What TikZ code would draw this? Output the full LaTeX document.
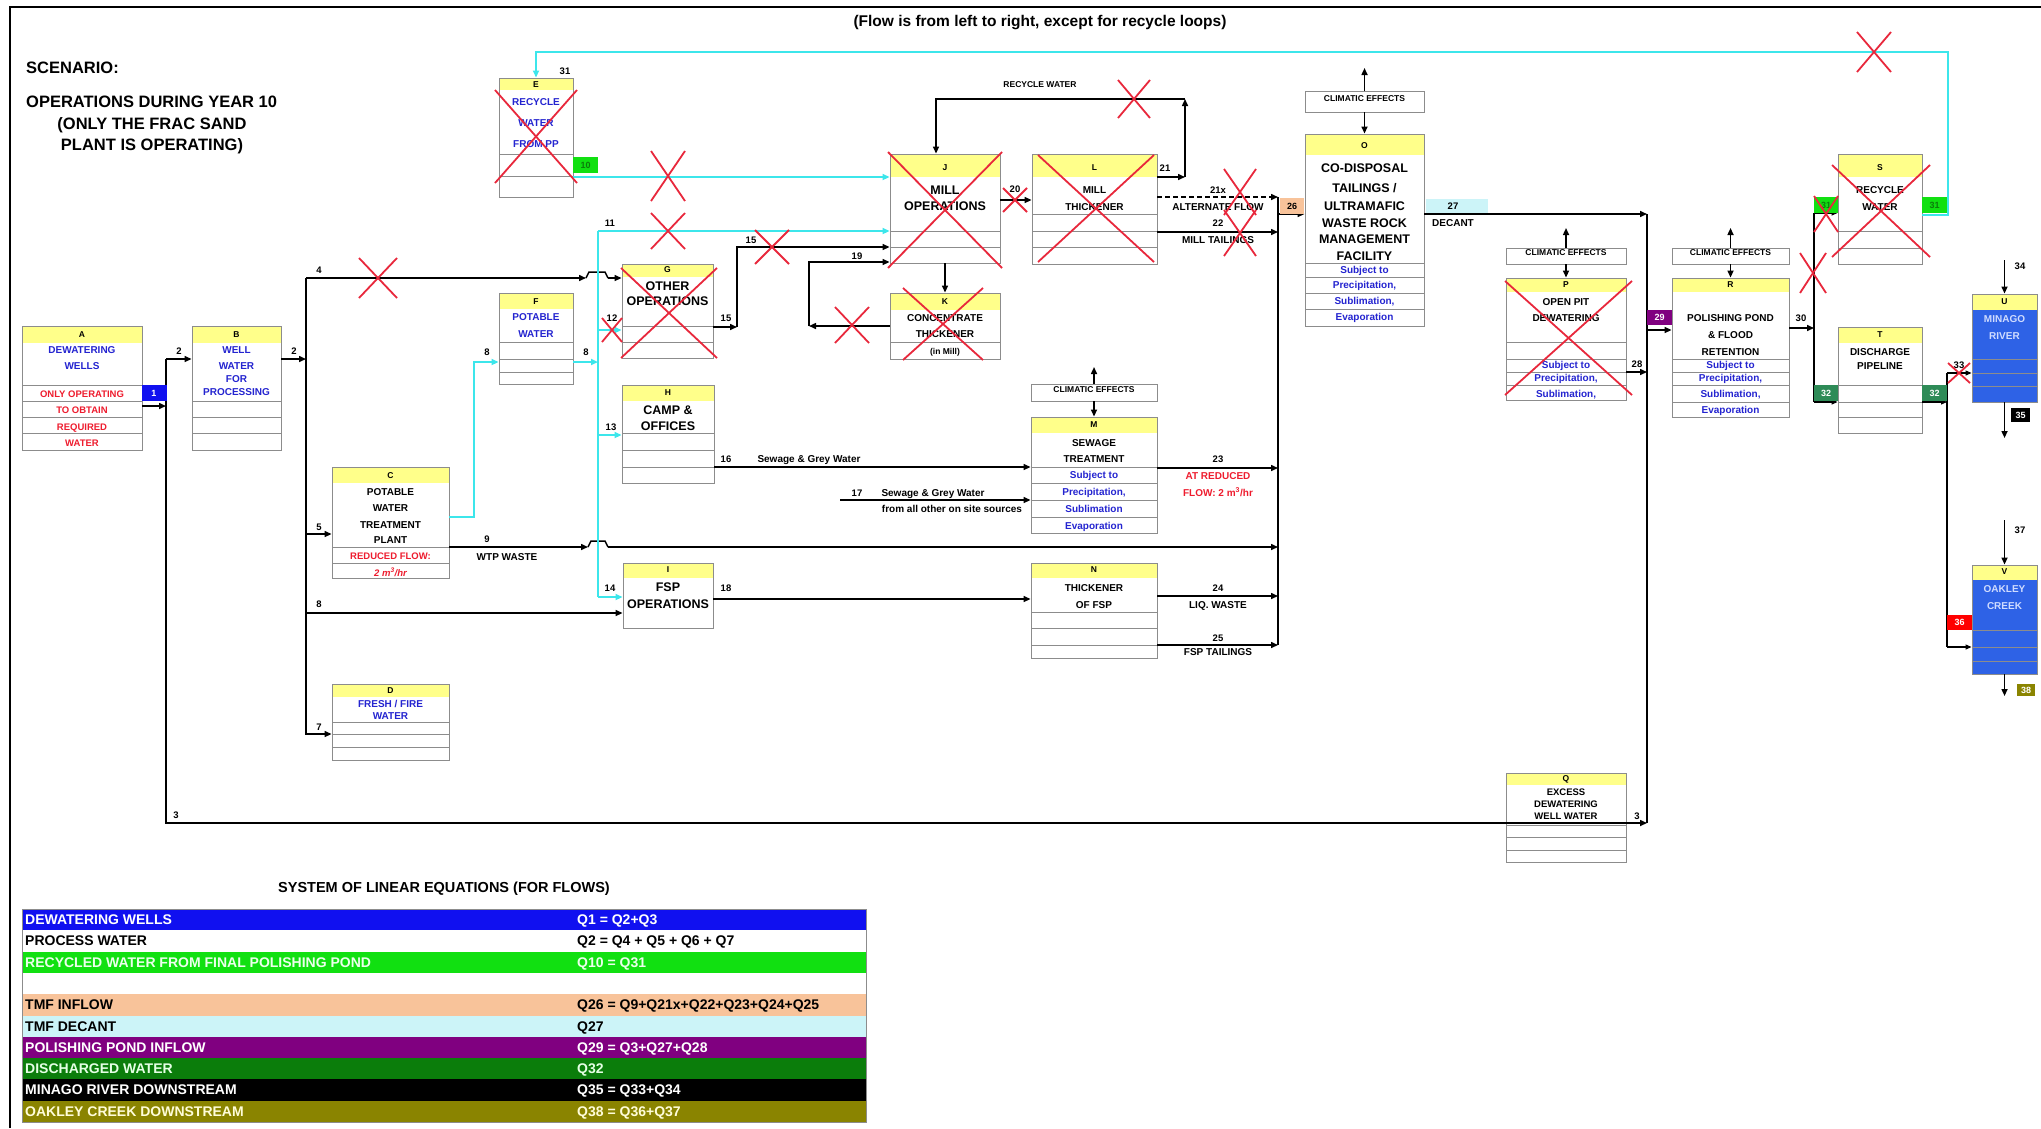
\documentclass[tikz,border=0pt]{standalone}
\usepackage{fontspec}
\setmainfont{Liberation Sans}
\usetikzlibrary{arrows.meta,fit}
\definecolor{hdr}{HTML}{FFFF8A}
\definecolor{boxc}{HTML}{8C8C8C}
\definecolor{cyanl}{HTML}{3CE6EB}
\definecolor{tblue}{HTML}{2424D0}
\definecolor{tred}{HTML}{EE1C2E}
\definecolor{xred}{HTML}{E8283C}
\definecolor{lgreen}{HTML}{11E011}
\definecolor{dgreen}{HTML}{2E8B57}
\definecolor{purp}{HTML}{800080}
\definecolor{lblue}{HTML}{1010F0}
\definecolor{peach}{HTML}{F8C39A}
\definecolor{lcyan}{HTML}{CCF4F8}
\definecolor{olivec}{HTML}{8A8400}
\definecolor{ublue}{HTML}{2E62E6}
\definecolor{tgreen}{HTML}{0B7D0B}
\definecolor{utext}{HTML}{D0DCFF}
\tikzset{
  ln/.style={line width=1.5pt},
  flow/.style={line width=1.5pt,-{Triangle[length=7pt,width=6pt]}},
  cln/.style={line width=1.8pt,draw=cyanl},
  cflow/.style={line width=1.8pt,draw=cyanl,-{Triangle[length=7pt,width=6pt]}},
  sflow/.style={line width=1.1pt,-{Triangle[length=6pt,width=5pt]}},
  rowl/.style={draw=boxc,line width=0.8pt},
  tx/.style={inner sep=0pt,text depth=0pt,font=\bfseries\fontsize{10}{12}\selectfont},
  big/.style={font=\bfseries\fontsize{12.5}{14}\selectfont},
  sm/.style={font=\bfseries\fontsize{8.5}{10}\selectfont},
  num/.style={font=\bfseries\fontsize{9.5}{11}\selectfont},
  blu/.style={text=tblue},
  rd/.style={text=tred},
  lab/.style={inner sep=0pt,minimum width=25pt,minimum height=16pt,font=\bfseries\fontsize{9}{10}\selectfont},
  clim/.style={draw=boxc,line width=0.9pt,fill=white,inner sep=0pt,font=\bfseries\fontsize{8.5}{10}\selectfont},
  xmk/.style={draw=xred,line width=1.8pt},
  tb/.style={inner sep=0pt,anchor=west,font=\bfseries\fontsize{14}{16}\selectfont},
  scen/.style={font=\bfseries\fontsize{16.5}{18}\selectfont},
}
\newcounter{tn}
\newcommand\ttx[4][]{\stepcounter{tn}\node[tx,#1] (t\arabic{tn}) at (#2,#3) {#4};}
\newcommand\fbx[8][white]{%
  \fill[#1] (#3,#4) rectangle (#5,#6);
  \fill[hdr] (#3,#4) rectangle (#5,#7);
  \foreach \rw in {#8}{\draw[rowl] (#3,\rw) -- (#5,\rw);}
  \node[fit={(#3,#4) (#5,#6)}, inner sep=0pt, draw=boxc, line width=0.9pt] (#2) {};
}
\newcommand\redx[4]{\draw[xmk] ({#1-#3},{#2-#4}) -- ({#1+#3},{#2+#4}) ({#1-#3},{#2+#4}) -- ({#1+#3},{#2-#4});}
\newcommand\bigx[4]{\draw[xmk] (#1,#2) -- (#3,#4) (#3,#2) -- (#1,#4);}
\newcommand\trow[5]{%
  \fill[#2] (22,{909+#1*21.3}) rectangle (866,{909+(#1+1)*21.3});
  \pgfmathsetmacro\ry{909+(#1+0.5)*21.3}
  \ttx[tb,text=#3]{25}{\ry}{#4}
  \ttx[tb,text=#3]{577}{\ry}{#5}
}
\begin{document}
\begin{tikzpicture}[x=1pt,y=-1pt]
\useasboundingbox (0,0) rectangle (2041,1128);
\draw[line width=1.8pt] (10,1128) -- (10,7) -- (2041,7);

% ---------- boxes
\fbx{A}{22}{326}{142}{450}{343}{385,401,417,433}
\fbx{B}{192}{326}{281}{450}{343}{401,417,433}
\fbx{C}{332}{467}{449}{578}{483}{547,563}
\fbx{D}{332}{684}{449}{760}{697}{722,734,747}
\fbx{E}{499}{78}{573}{197}{90}{154,176}
\fbx{F}{499}{293}{573}{384}{309}{342,359,372}
\fbx{G}{622}{264}{713}{358}{277}{326,342}
\fbx{H}{622}{385}{714}{483}{401}{433,450,467}
\fbx{I}{623}{563}{713}{628}{578}{628}
\fbx{J}{890}{154}{1000}{263}{177}{231,247}
\fbx{K}{890}{293}{1000}{359}{310}{342}
\fbx{L}{1032}{154}{1157}{264}{177}{214,231,247}
\fbx{M}{1031}{417}{1157}{533}{433}{467,483,500,517}
\fbx{N}{1031}{563}{1157}{658}{578}{612,628,645}
\fbx{O}{1305}{134}{1424}{326}{155}{263,277,293,309}
\fbx{P}{1506}{278}{1626}{400}{292}{342,359,372,385}
\fbx{Q}{1506}{773}{1626}{862}{785}{825,837,850}
\fbx{R}{1672}{278}{1789}{417}{292}{359,372,385,402}
\fbx{S}{1838}{154}{1922}{264}{177}{231,248}
\fbx{T}{1838}{327}{1922}{433}{343}{385,402,417}
\fbx[ublue]{U}{1972}{294}{2037}{402}{310}{359,373,386}
\fbx[ublue]{V}{1972}{565}{2037}{674}{580}{630,647,661}

\node[clim, fit={(1305,91) (1424,112)}] (CO) {CLIMATIC EFFECTS};
\node[clim, fit={(1031,384) (1157,401)}] (CM) {CLIMATIC EFFECTS};
\node[clim, fit={(1506,248) (1626,264)}] (CP) {CLIMATIC EFFECTS};
\node[clim, fit={(1672,248) (1789,264)}] (CR) {CLIMATIC EFFECTS};

% ---------- connectors (left part)
\draw[flow] (A.east |- 0,406) -- (166,406);
\draw[flow] (166,359) -- (B.west |- 0,359);
\draw[flow] (166,359) -- (166,823) -- (1647,823);
\draw[flow] (B.east |- 0,359) -- (306,359);
\draw[flow] (306,278) -- (306,734) -- (D.west |- 0,734);
\draw[flow] (306,278) -- (586,278);
\draw[ln] (586,278) -- (589,272) -- (605,272) -- (608,278);
\draw[flow] (608,278) -- (G.west |- 0,278);
\draw[flow] (306,534) -- (C.west |- 0,534);
\draw[flow] (306,613) -- (I.west |- 0,613);
% line 9 with hop
\draw[flow] (C.east |- 0,547) -- (588,547);
\draw[ln] (588,547) -- (591,541) -- (605,541) -- (608,547);
\draw[flow] (608,547) -- (1278,547);

% cyan
\draw[cflow] (C.east |- 0,517) -- (474,517) -- (474,362) -- (F.west |- 0,362);
\draw[cflow] (F.east |- 0,362) -- (598,362);
\draw[cln] (598,231) -- (598,597);
\draw[cflow] (598,231) -- (J.west |- 0,231);
\draw[cflow] (598,330) -- (G.west |- 0,330);
\draw[cflow] (598,435) -- (H.west |- 0,435);
\draw[cflow] (598,597) -- (I.west |- 0,597);
\draw[cflow] (E.east |- 0,177) -- (J.west |- 0,177);
\draw[cflow] (S.east |- 0,215) -- (1948,215) -- (1948,52) -- (536,52) -- (E.north);

% mill area
\draw[flow] (G.east |- 0,327) -- (737,327);
\draw[flow] (737,327) -- (737,247) -- (J.west |- 0,247);
\draw[flow] (K.west |- 0,326) -- (809,326);
\draw[flow] (809,326) -- (809,262) -- (J.west |- 0,262);
\draw[flow] (J.south) -- (K.north);
\draw[flow] (J.east |- 0,200) -- (L.west |- 0,200);
\draw[flow] (L.east |- 0,177) -- (1185,177);
\draw[flow] (1185,177) -- (1185,99);
\draw[flow] (1185,99) -- (936,99) -- (J.north -| 936,0);
\draw[flow, dash pattern=on 5pt off 3pt] (L.east |- 0,197) -- (1278,197);
\draw[flow] (L.east |- 0,232) -- (1278,232);
\draw[ln] (1278,197) -- (1278,645);
\draw[flow] (1278,214) -- (O.west |- 0,214);

% sewage / FSP
\coordinate (s17) at (840,500);
\draw[flow] (H.east |- 0,467) -- (M.west |- 0,467);
\draw[flow] (s17) -- (M.west |- s17);
\draw[flow] (I.east |- 0,599) -- (N.west |- 0,599);
\draw[flow] (M.east |- 0,468) -- (1278,468);
\draw[flow] (N.east |- 0,596) -- (1278,596);
\draw[flow] (N.east |- 0,645) -- (1278,645);

% climatic arrows
\coordinate (uO) at (1364.5,68);
\coordinate (uM) at (1094,367);
\coordinate (uP) at (1566,228);
\coordinate (uR) at (1730.5,228);
\draw[flow] (CO.north) -- (uO);
\draw[flow] (CO.south) -- (O.north);
\draw[flow] (CM.north) -- (uM);
\draw[flow] (CM.south) -- (M.north);
\draw[flow] (CP.north) -- (uP);
\draw[flow] (CP.south) -- (P.north);
\draw[flow] (CR.north) -- (uR);
\draw[flow] (CR.south) -- (R.north);

% right part
\fill[lcyan] (1426,199) rectangle (1488,213);
\draw[flow] (O.east |- 0,214) -- (1647,214);
\draw[ln] (1647,214) -- (1647,823);
\draw[flow] (P.east |- 0,372) -- (1647,372);
\draw[flow] (1647,330) -- (R.west |- 0,330);
\draw[flow] (R.east |- 0,328) -- (1814,328);
\draw[sflow] (1814,213) -- (S.west |- 0,213);
\draw[line width=1.1pt] (1814,213) -- (1814,402);
\draw[sflow] (1814,402) -- (T.west |- 0,402);
\draw[sflow] (T.east |- 0,402) -- (1947,402);
\draw[line width=1.1pt] (1947,373) -- (1947,647);
\draw[sflow] (1947,373) -- (U.west |- 0,373);
\draw[sflow] (1947,647) -- (V.west |- 0,647);
\coordinate (i34) at (2004.5,260);
\coordinate (o35) at (2004.5,438);
\coordinate (i37) at (2004.5,520);
\coordinate (o38) at (2004.5,696);
\draw[flow] (i34) -- (U.north);
\draw[flow] (U.south) -- (o35);
\draw[flow] (i37) -- (V.north);
\draw[flow] (V.south) -- (o38);

% ---------- coloured labels
\node[lab,fill=lblue,text=white] (l1) at (154,393) {1};
\node[lab,fill=lgreen,text=tgreen] (l10) at (585.5,165) {10};
\node[lab,fill=peach,minimum width=24pt] (l26) at (1292,206) {26};
\node[lab,fill=purp,text=white,minimum height=15pt] (l29) at (1659.5,317.5) {29};
\node[lab,fill=lgreen,text=tgreen,minimum width=24pt] (l31a) at (1826,205) {31};
\node[lab,fill=lgreen,text=tgreen] (l31b) at (1934.5,205) {31};
\node[lab,fill=dgreen,text=white,minimum width=24pt] (l32a) at (1826,393) {32};
\node[lab,fill=dgreen,text=white] (l32b) at (1934.5,393) {32};
\node[lab,fill=black,text=white,minimum width=19pt,minimum height=14pt] (l35) at (2020.5,415) {35};
\node[lab,fill=red,text=white,minimum height=15pt] (l36) at (1959.5,622.5) {36};
\node[lab,fill=olivec,text=white,minimum width=18pt,minimum height=12pt] (l38) at (2026,690) {38};

% ---------- texts
\ttx[scen,anchor=west]{26}{68}{SCENARIO:}
\ttx[scen,anchor=west]{26}{102}{OPERATIONS DURING YEAR 10}
\ttx[scen]{152}{124}{(ONLY THE FRAC SAND}
\ttx[scen]{152}{145}{PLANT IS OPERATING)}
\ttx[font=\bfseries\fontsize{15.5}{17}\selectfont]{1040}{21}{(Flow is from left to right, except for recycle loops)}

\ttx[sm]{82}{335}{A}
\ttx[blu]{82}{350}{DEWATERING}
\ttx[blu]{82}{366}{WELLS}
\ttx[rd,font=\bfseries\fontsize{9.5}{11}\selectfont]{82}{394}{ONLY OPERATING}
\ttx[rd,font=\bfseries\fontsize{9.5}{11}\selectfont]{82}{410}{TO OBTAIN}
\ttx[rd,font=\bfseries\fontsize{9.5}{11}\selectfont]{82}{427}{REQUIRED}
\ttx[rd,font=\bfseries\fontsize{9.5}{11}\selectfont]{82}{443}{WATER}

\ttx[sm]{236.5}{335}{B}
\ttx[blu]{236.5}{350}{WELL}
\ttx[blu]{236.5}{366}{WATER}
\ttx[blu]{236.5}{379}{FOR}
\ttx[blu]{236.5}{392}{PROCESSING}

\ttx[sm]{390.5}{476}{C}
\ttx{390.5}{492}{POTABLE}
\ttx{390.5}{508}{WATER}
\ttx{390.5}{525}{TREATMENT}
\ttx{390.5}{540}{PLANT}
\ttx[rd,font=\bfseries\fontsize{9.5}{11}\selectfont]{390.5}{556}{REDUCED FLOW:}
\ttx[rd,font=\bfseries\itshape\fontsize{9.5}{11}\selectfont]{390.5}{572}{2 m\textsuperscript{3}/hr}

\ttx[sm]{390.5}{691}{D}
\ttx[blu]{390.5}{704}{FRESH / FIRE}
\ttx[blu]{390.5}{716}{WATER}

\ttx[sm]{536}{85}{E}
\ttx[blu]{536}{102}{RECYCLE}
\ttx[blu]{536}{123}{WATER}
\ttx[blu]{536}{144}{FROM PP}

\ttx[sm]{536}{302}{F}
\ttx[blu]{536}{317}{POTABLE}
\ttx[blu]{536}{334}{WATER}

\ttx[sm]{667.5}{270}{G}
\ttx[big]{667.5}{286}{OTHER}
\ttx[big]{667.5}{301}{OPERATIONS}

\ttx[sm]{668}{393}{H}
\ttx[big]{668}{410}{CAMP \&}
\ttx[big]{668}{426}{OFFICES}

\ttx[sm]{668}{570}{I}
\ttx[big]{668}{587}{FSP}
\ttx[big]{668}{604}{OPERATIONS}

\ttx[sm]{945}{168}{J}
\ttx[big]{945}{190}{MILL}
\ttx[big]{945}{206}{OPERATIONS}

\ttx[sm]{945}{302}{K}
\ttx{945}{318}{CONCENTRATE}
\ttx{945}{334}{THICKENER}
\ttx[sm]{945}{351}{(in Mill)}

\ttx[sm]{1094.5}{168}{L}
\ttx{1094.5}{190}{MILL}
\ttx{1094.5}{207}{THICKENER}

\ttx[sm]{1094}{425}{M}
\ttx{1094}{443}{SEWAGE}
\ttx{1094}{459}{TREATMENT}
\ttx[blu]{1094}{475}{Subject to}
\ttx[blu]{1094}{492}{Precipitation,}
\ttx[blu]{1094}{509}{Sublimation}
\ttx[blu]{1094}{526}{Evaporation}

\ttx[sm]{1094}{570}{N}
\ttx{1094}{588}{THICKENER}
\ttx{1094}{605}{OF FSP}

\ttx[sm]{1364.5}{146}{O}
\ttx[big]{1364.5}{168}{CO-DISPOSAL}
\ttx[big]{1364.5}{188}{TAILINGS /}
\ttx[big]{1364.5}{206}{ULTRAMAFIC}
\ttx[big]{1364.5}{223}{WASTE ROCK}
\ttx[big]{1364.5}{239}{MANAGEMENT}
\ttx[big]{1364.5}{256}{FACILITY}
\ttx[blu]{1364.5}{270}{Subject to}
\ttx[blu]{1364.5}{285}{Precipitation,}
\ttx[blu]{1364.5}{301}{Sublimation,}
\ttx[blu]{1364.5}{317}{Evaporation}

\ttx[sm]{1566}{285}{P}
\ttx{1566}{302}{OPEN PIT}
\ttx{1566}{318}{DEWATERING}
\ttx[blu]{1566}{365}{Subject to}
\ttx[blu]{1566}{378}{Precipitation,}
\ttx[blu]{1566}{394}{Sublimation,}

\ttx[sm]{1566}{779}{Q}
\ttx[font=\bfseries\fontsize{9.5}{11}\selectfont]{1566}{792}{EXCESS}
\ttx[font=\bfseries\fontsize{9.5}{11}\selectfont]{1566}{804}{DEWATERING}
\ttx[font=\bfseries\fontsize{9.5}{11}\selectfont]{1566}{816}{WELL WATER}

\ttx[sm]{1730.5}{285}{R}
\ttx{1730.5}{318}{POLISHING POND}
\ttx{1730.5}{335}{\& FLOOD}
\ttx{1730.5}{352}{RETENTION}
\ttx[blu]{1730.5}{365}{Subject to}
\ttx[blu]{1730.5}{378}{Precipitation,}
\ttx[blu]{1730.5}{394}{Sublimation,}
\ttx[blu]{1730.5}{410}{Evaporation}

\ttx[sm]{1880}{168}{S}
\ttx{1880}{190}{RECYCLE}
\ttx{1880}{207}{WATER}

\ttx[sm]{1880}{335}{T}
\ttx{1880}{352}{DISCHARGE}
\ttx{1880}{366}{PIPELINE}

\ttx[sm]{2004.5}{302}{U}
\ttx[text=utext]{2004.5}{319}{MINAGO}
\ttx[text=utext]{2004.5}{336}{RIVER}

\ttx[sm]{2004.5}{572}{V}
\ttx[text=utext]{2004.5}{589}{OAKLEY}
\ttx[text=utext]{2004.5}{606}{CREEK}

% flow numbers and notes
\ttx[num]{179}{351}{2}
\ttx[num]{294}{351}{2}
\ttx[num]{319}{270}{4}
\ttx[num]{319}{527}{5}
\ttx[num]{319}{604}{8}
\ttx[num]{319}{727}{7}
\ttx[num]{176}{815}{3}
\ttx[num]{1637}{816}{3}
\ttx[num]{565}{71}{31}
\ttx[num]{487}{352}{8}
\ttx[num]{586}{352}{8}
\ttx[num]{610}{223}{11}
\ttx[num]{612}{318}{12}
\ttx[num]{611}{427}{13}
\ttx[num]{610}{588}{14}
\ttx[num]{487}{539}{9}
\ttx{507}{557}{WTP WASTE}
\ttx[num]{726}{318}{15}
\ttx[num]{751}{240}{15}
\ttx[num]{857}{256}{19}
\ttx[num]{1015}{189}{20}
\ttx[num]{1165}{168}{21}
\ttx[sm]{1040}{85}{RECYCLE WATER}
\ttx[num]{1218}{190}{21x}
\ttx{1218}{207}{ALTERNATE FLOW}
\ttx[num]{1218}{223}{22}
\ttx{1218}{240}{MILL TAILINGS}
\ttx[num]{1453}{206}{27}
\ttx{1453}{223}{DECANT}
\ttx[num]{726}{459}{16}
\ttx{809}{459}{Sewage \& Grey Water}
\ttx[num]{857}{493}{17}
\ttx{933}{493}{Sewage \& Grey Water}
\ttx{952}{509}{from all other on site sources}
\ttx[num]{726}{588}{18}
\ttx[num]{1218}{459}{23}
\ttx[rd]{1218}{476}{AT REDUCED}
\ttx[rd]{1218}{492}{FLOW: 2 m\textsuperscript{3}/hr}
\ttx[num]{1218}{588}{24}
\ttx{1218}{605}{LIQ. WASTE}
\ttx[num]{1218}{638}{25}
\ttx{1218}{652}{FSP TAILINGS}
\ttx[num]{1637}{364}{28}
\ttx[num]{1801}{318}{30}
\ttx[num]{1959}{365}{33}
\ttx[num]{2020}{266}{34}
\ttx[num]{2020}{530}{37}

% ---------- red crosses
\bigx{495}{90}{577}{183}
\bigx{621}{268}{717}{358}
\bigx{888}{152}{1002}{268}
\bigx{903}{288}{983}{360}
\bigx{1038}{155}{1154}{262}
\bigx{1505}{281}{1632}{395}
\bigx{1832}{165}{1930}{257}
\redx{378}{278}{19}{20}
\redx{668}{176}{17}{25}
\redx{668}{231}{17}{18}
\redx{612}{330}{10}{12}
\redx{772}{247}{17}{17}
\redx{852}{325}{17}{18}
\redx{1015}{200}{12}{12}
\redx{1134}{99}{16}{19}
\redx{1240}{192}{16}{23}
\redx{1240}{233}{16}{23}
\redx{1826}{214}{12}{18}
\redx{1813}{273}{13}{20}
\redx{1874}{52}{17}{20}
\redx{1959}{373}{11}{10}

% ---------- table
\ttx[font=\bfseries\fontsize{14.5}{16}\selectfont]{444}{887}{SYSTEM OF LINEAR EQUATIONS (FOR FLOWS)}
\trow{0}{lblue}{white}{DEWATERING WELLS}{Q1 = Q2+Q3}
\trow{1}{white}{black}{PROCESS WATER}{Q2 = Q4 + Q5 + Q6 + Q7}
\trow{2}{lgreen}{green!8!white}{RECYCLED WATER FROM FINAL POLISHING POND}{Q10 = Q31}
\trow{3}{white}{black}{}{}
\trow{4}{peach}{black}{TMF INFLOW}{Q26 = Q9+Q21x+Q22+Q23+Q24+Q25}
\trow{5}{lcyan}{black}{TMF DECANT}{Q27}
\trow{6}{purp}{white}{POLISHING POND INFLOW}{Q29 = Q3+Q27+Q28}
\trow{7}{tgreen}{green!10!white}{DISCHARGED WATER}{Q32}
\trow{8}{black}{white}{MINAGO RIVER DOWNSTREAM}{Q35 = Q33+Q34}
\trow{9}{olivec}{yellow!15!white}{OAKLEY CREEK DOWNSTREAM}{Q38 = Q36+Q37}
\draw[boxc,line width=0.8pt] (22,909) rectangle (866,1122);
\end{tikzpicture}
\end{document}
